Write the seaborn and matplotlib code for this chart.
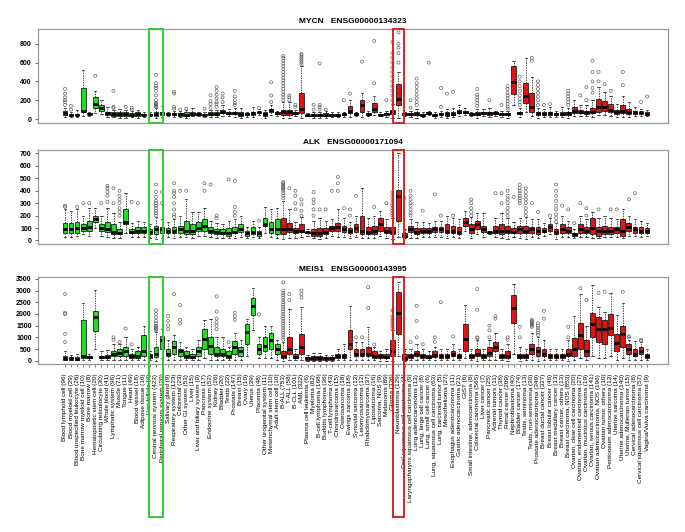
import pandas as pd
import matplotlib.pyplot as plt
import seaborn as sns
import numpy as np
from matplotlib.patches import Rectangle
from matplotlib.transforms import blended_transform_factory

plt.rcParams['font.family'] = ['Liberation Sans', 'DejaVu Sans']

cats = ['Blood lymphoid cell (96)', 'Blood myeloid cell (29)', 'Blood unspecified leukocyte (26)',
        'Bone marrow myeloid cell (10)', 'Bone marrow (8)', 'Hematopoietic stem cell (20)',
        'Circulating reticulocyte (30)', 'Whole blood (41)', 'Lymphatic system (96)', 'Muscle (71)',
        'Tongue (11)', 'Heart (49)', 'Blood vessel (18)', 'Adipose tissue (16)', 'Hair follicle (4)',
        'Central nervous system (423)', 'Peripheral nervous system (20)', 'Salivary gland (9)',
        'Respiratory system (123)', 'Colorectal (23)', 'Other GI system (53)', 'Liver (15)',
        'Liver and biliary system (9)', 'Pancreas (17)', 'Endocrine system (52)', 'Kidney (26)',
        'Bladder (20)', 'Testis (22)', 'Prostate (147)', 'Breast (15)', 'Ovary (10)', 'Uterus (39)',
        'Placenta (48)', 'Other urogenital system (11)', 'Mesenchymal stem cell (10)', 'Adult stem cell (10)',
        'B-ALL (753)', 'T-ALL (58)', 'B-CLL (101)', 'AML (322)', 'Plasma cell leukemia (6)', 'Myeloma (82)',
        'B-cell lymphoma (168)', 'Burkitts lymphoma (36)', 'T-cell lymphoma (43)', 'Chondrosarcoma (15)',
        'Osteosarcoma (18)', 'Ewings sarcoma (18)', 'Synovial sarcoma (12)', 'Leiomyosarcoma (12)',
        'Rhabdomyosarcoma (37)', 'Liposarcoma (16)', 'Sarcoma, NOS (9)', 'Melanoma (89)', 'Glioma (336)',
        'Neuroblastoma (129)', 'Oral squamous cell carcinoma (4)', 'Laryngopharynx squamous cell carcinoma (9)',
        'Lung adenocarcinoma (13)', 'Lung, large cell cancer (8)', 'Lung, small cell cancer (6)',
        'Lung, squamous cell carcinoma (63)', 'Lung, carcinoid tumor (5)', 'Mesothelioma (27)',
        'Esophagus adenocarcinoma (11)', 'Gastric adenocarcinoma (21)', 'GIST (6)',
        'Small intestine, adenocarcinoma (6)', 'Colorectal carcinoma (565)', 'Liver cancer (7)',
        'Pancreatic cancer (25)', 'Adrenal tumors (11)', 'Thyroid cancer (38)', 'Renal cancer (209)',
        'Nephroblastoma (40)', 'Bladder cancer (174)', 'Testis, seminoma (13)', 'Testis, non-seminoma (30)',
        'Prostate adenocarcinoma (349)', 'Breast ductal cancer (327)', 'Breast lobular cancer (46)',
        'Breast medullary cancer (13)', 'Breast cancer, others (13)', 'Breast carcinoma, NOS (853)',
        'Ovarian, clear cell carcinoma (20)', 'Ovarian, endometrioid carcinoma (27)',
        'Ovarian, mucinous carcinoma (19)', 'Ovarian, serous carcinoma (141)',
        'Ovarian adenocarcinoma, NOS (196)', 'Ovarian tumor, others (10)', 'Peritoneum adenocarcinoma (13)',
        'Uterine sarcoma (14)', 'Uterine adenocarcinoma (140)', 'Uterine, Mullerian tumor (15)',
        'Cervical adenocarcinoma (8)', 'Cervical squamous cell carcinoma (57)', 'Vagina/Vulva carcinoma (9)']
n_normal = 36

# MYCN
mycn_lo = [20,20,20,30,30,60,50,20,20,15,15,20,15,25,30,10,20,30,20,20,15,30,30,25,20,25,30,30,25,15,25,20,40,15,40,30,
           10,10,30,10,30,15,15,15,20,20,20,20,30,20,30,40,30,20,10,10,30,20,15,25,40,15,20,15,20,30,40,30,10,30,25,30,
           20,10,150,20,80,30,15,20,20,25,20,10,30,30,30,20,40,40,30,20,20,20,30,30,30]
mycn_q1 = [40,35,40,75,50,120,90,40,35,30,30,35,35,40,40,35,40,45,40,35,30,45,45,40,40,45,60,50,50,30,40,40,60,30,70,50,
           40,40,50,60,35,30,30,30,35,35,40,60,45,80,45,80,40,40,50,150,40,40,40,35,55,30,40,30,40,60,60,45,40,50,45,50,
           40,40,270,50,170,80,40,40,40,40,40,40,60,60,50,60,80,90,70,50,60,50,50,55,45]
mycn_med = [60,45,45,90,55,155,120,60,55,50,50,45,50,45,45,55,60,50,50,50,45,55,50,45,55,55,80,65,65,50,50,60,70,50,100,60,
            70,70,60,110,40,40,40,40,40,45,50,90,50,150,55,110,45,50,70,210,50,50,55,40,60,40,50,50,55,80,70,50,55,60,60,60,
            50,50,390,65,250,130,60,50,60,50,55,60,90,80,70,80,130,130,100,70,90,80,70,70,55]
mycn_q3 = [85,55,55,330,65,230,150,80,70,70,70,60,70,55,55,80,80,60,60,60,70,70,60,55,70,70,100,80,80,80,60,80,80,70,110,70,
           100,100,70,280,45,50,50,60,50,55,60,140,60,200,65,170,55,60,100,370,60,60,70,50,70,50,60,70,80,100,90,60,70,80,80,70,
           60,60,560,80,380,280,80,70,80,60,80,80,130,100,90,120,210,190,160,100,150,110,90,80,70]
mycn_hi = [120,80,100,520,80,300,200,130,100,110,100,90,100,70,70,120,140,80,90,90,100,120,80,80,100,100,150,110,120,120,80,130,110,100,150,90,
           180,180,100,560,60,70,70,90,70,80,80,200,80,280,90,250,70,90,160,500,80,90,110,70,90,70,90,110,120,150,120,80,110,110,120,90,
           90,90,620,120,650,450,120,110,130,90,130,120,200,150,150,200,340,290,250,160,250,180,130,110,100]
mycn_out = [[150,180,200,230,270,320],[100,140],[],[],[],[460],[],[],[120,130,300],[],[130],[100,120],[],[],[],
            [130,140,150,160,170,200,250,300,330,350,380,470],[],[],[110,130,270,290],[100],[110],[],[],[110],
            [120,160,190,250],[130,160,180,220,260,300,340],[180,230,270],[],[150,170,200,240,300],[],[],[],[120],[],
            [180,250,390],[],
            [200,230,260,290,320,350,380,410,440,470,500,530,560,590,620,650,670],[200,230,250],[130,150],
            [580,600,620,640,660,680,690],[],[100,150],[100,130,150,590],[100],[],[],[200],[270],[],[610],[],[380,830],[],[200],
            [200,250,300,350,400,450,500,550,600,650,700,820],[600,700,760,800,920],[],[120,200],
            [150,180,220,260,300,340,380,430],[],[600],[],[130,330],[270],[290],[],[],[],[140,170,200,230,260,320],[],[200],[],
            [150],[110,130,160,190,220,250,280,320,350],[],[150,180,210,250,300,350,400,450],[],[620,650],
            [150,200,240,280,320,360,400],[150],[160],[],[],[150,180,210,240,270,300],[],[250],[200,340],
            [280,330,400,500,620],[400,500],[370],[300],[],[360,500],[],[],[180],[240]]

# ALK
alk_lo = [30,30,40,50,40,100,40,30,20,20,60,30,30,30,20,10,20,30,20,30,30,20,40,40,30,20,20,20,20,30,20,30,20,60,30,20,
          10,20,20,30,40,20,10,20,40,30,30,20,30,20,20,20,40,20,10,30,20,20,20,30,30,30,30,20,30,20,80,20,50,30,50,30,
          20,10,30,20,10,30,20,40,50,10,30,30,20,30,30,20,20,30,30,30,20,40,40,30,40]
alk_q1 = [60,60,60,80,80,150,80,70,50,50,130,60,60,60,50,50,60,60,60,60,50,50,80,80,60,50,50,40,60,70,40,50,40,120,60,50,
          50,70,60,70,60,40,40,50,80,80,70,60,70,50,50,50,80,60,50,160,30,70,50,60,60,70,70,60,60,50,120,60,90,70,60,60,
          50,60,60,60,60,60,50,70,80,50,60,60,40,60,60,50,40,50,50,60,40,80,60,60,60]
alk_med = [95,95,100,100,110,170,100,95,70,60,150,70,80,80,70,90,90,80,80,90,80,80,100,120,80,70,60,60,70,90,60,70,60,130,90,90,
           90,90,80,80,65,60,60,70,100,110,90,80,100,80,70,80,130,80,70,360,40,90,70,80,80,90,90,80,80,70,150,90,130,90,65,80,
           80,80,70,90,80,90,80,80,110,70,90,80,50,90,80,100,80,80,80,90,80,110,90,80,80]
alk_q3 = [140,140,150,130,160,200,130,150,130,90,250,90,110,110,90,120,110,100,110,120,160,130,150,170,110,90,90,100,110,130,80,110,80,180,150,170,
          180,140,100,130,70,90,100,100,120,140,120,100,130,200,110,120,180,110,110,410,60,120,100,100,100,110,110,130,120,110,180,130,160,120,70,120,
          130,120,100,120,120,110,110,100,130,90,130,110,60,130,110,180,110,120,110,110,170,140,110,110,100]
alk_hi = [250,240,250,200,260,260,200,260,220,150,380,140,160,150,130,190,170,150,170,200,330,230,230,260,160,140,130,160,170,200,110,160,110,270,250,260,
          320,250,150,190,90,160,180,160,170,250,180,150,200,420,180,200,240,170,180,700,90,170,150,150,140,160,160,200,180,170,240,190,220,220,80,180,
          220,180,150,180,190,170,170,140,180,140,200,160,90,200,170,230,180,200,180,170,250,200,170,160,140]
alk_out = [[270,280],[],[270],[300],[300],[],[300],[310,360,390,420,440],[300,420],[200,230,260,300,330,360,400],[],[310],[300],
           [],[],[200,220,240,260,280,300,320,350,390,450],[300,390],[],[190,210,250,300,350,380,400,460],[400],[400],[],[],
           [400,460],[450],[180,200],[],[490],[200,230,270,480],[],[],[],[160],[],[],[],
           [340,360,380,400,410,420,430,440,450,460,470],[420],[250,300,360,400],[200,240,290,330],[],[200,250,300,330,390],
           [250],[250],[400],[400,460,510],[260],[200,250],[360],[],[],[270],[],[300],[200,220,240,260,280,300,330,360,390],[],
           [340],[200,220,250,280,300,330,360,400],[],[240],[],[370],[200],[],[200],[],[],[200,230,260,300,330],[],[],[],[380],
           [300,380],[200,230,260,300,330,360,400],[350],[300,320,340,360,380,400,420,450],[200,230,260,300,330,360,390,420],
           [300],[230],[],[200],[150,180,210,250,280,320,360,400,450],[280],[250],[140],[300],[200,260],[],[250],[],[250],[250],
           [],[330],[380],[],[]]

# MEIS1
meis1_lo = [20,20,20,20,20,500,20,20,50,50,50,20,20,50,20,10,100,50,50,50,20,20,50,100,50,50,50,20,50,50,200,1300,100,100,100,50,
            10,50,20,20,10,10,10,10,10,20,20,50,20,20,20,20,10,10,10,200,10,20,20,20,20,20,20,20,20,20,100,20,10,20,20,50,
            20,10,300,10,20,20,10,20,20,20,20,10,50,100,50,200,100,100,200,50,100,50,50,50,20]
meis1_q1 = [50,50,50,100,100,1290,100,100,200,200,200,100,100,200,100,150,500,200,300,200,100,100,200,500,300,200,200,100,300,200,700,1950,300,400,500,300,
            100,300,100,300,50,50,50,50,50,100,100,500,200,200,200,100,100,100,200,1150,50,100,200,100,100,150,100,100,200,100,400,100,200,100,200,400,
            100,100,1630,100,100,300,200,200,100,100,100,200,200,500,200,1000,800,700,1100,400,600,300,200,300,100]
meis1_med = [100,100,80,200,150,1870,150,150,300,350,400,200,200,400,200,300,900,300,600,400,200,150,400,950,650,300,300,200,600,400,1240,2330,500,650,900,500,
             200,500,150,600,100,100,100,100,100,200,200,700,300,300,300,200,200,150,400,2050,100,200,300,200,150,250,200,200,300,200,920,200,300,200,350,600,
             200,200,2260,200,200,500,400,300,200,200,200,300,500,1100,400,1550,1350,1350,1400,780,1150,500,300,400,200]
meis1_q3 = [200,150,150,1730,200,2140,200,250,400,500,600,300,400,1090,300,600,1050,500,850,500,400,300,600,1350,1000,600,500,400,850,600,1580,2700,700,1000,1200,700,
            400,1030,300,1150,150,200,200,150,150,300,300,1300,500,500,600,400,300,300,900,2950,300,300,400,300,250,400,300,300,400,300,1560,300,500,300,600,800,
            300,400,2800,300,300,700,600,500,300,300,300,500,960,1600,900,2050,1850,1750,2000,1150,1500,700,500,600,300]
meis1_hi = [400,250,300,2450,300,3040,400,450,700,700,1000,500,600,1490,400,1250,1350,900,1100,800,600,500,900,1750,1800,1000,1000,600,1200,900,1780,3100,1000,1500,1500,900,
            800,2200,500,2300,250,350,350,250,250,500,700,2350,800,800,1450,600,400,500,1300,3350,500,500,700,500,400,600,500,500,700,500,2370,500,900,500,900,1200,
            500,700,3270,600,500,1200,1000,900,500,500,500,900,1900,2850,1500,3240,2300,2100,2900,1950,2450,900,850,800,500]
meis1_out = [[800,1150,2000,2050,2850],[],[],[],[],[],[],[],[900,1000],[800],[1380],[700],[],[],[],
             [1300,1350,1400,1450,1500,1600,1700,1850,2000,2150],[],[1350,1500,1700,1900],[2850],[1600,1750,2380],[],[],[],[],[],
             [1350,1500,1650,1800,2100,2750],[],[800],[1750,1900,2050],[],[],[],[1980],[],[],[],
             [900,1000,1100,1200,1300,1400,1500,1600,1700,1800,1900,2000,2100,2200,2300,2400,2500,2600,2700,2800,2900,3000,3350],
             [2600,2850],[],[2700,2850,3000],[],[],[],[],[],[],[],[],[1000],[1000],[2250,3140],[700],[],[],
             [1400,1500,1600,1700,1800,1900,2150],[],[],[800],[1000,1700,2350],[700],[],[800,1000],[2500],[],[1050],[],[],[],
             [970,1000,2180,3060],[],[1000,1300,1500],[1800,1900],[],[900,1000],[],[1000,1450],[],
             [1450,1500,1550,1600,1650,1700,1750],[1100,1200,1300,1400,1500,1600],[1800,2130],[],[],[],[1000,1450],[],[3100],
             [2600],[],[2900],[2950],[],[],[2950],[1000,1050],[],[850,900],[]]

mycn_ticks = [0, 200, 400, 600, 800]
alk_ticks = [0, 100, 200, 300, 400, 500, 600, 700]
meis1_ticks = [0, 500, 1000, 1500, 2000, 2500, 3000, 3500]

panels = [('MYCN   ENSG00000134323', mycn_lo, mycn_q1, mycn_med, mycn_q3, mycn_hi, mycn_out, mycn_ticks, (-37, 957)),
          ('ALK   ENSG00000171094', alk_lo, alk_q1, alk_med, alk_q3, alk_hi, alk_out, alk_ticks, (-28, 728)),
          ('MEIS1   ENSG00000143995', meis1_lo, meis1_q1, meis1_med, meis1_q3, meis1_hi, meis1_out, meis1_ticks, (-138, 3578))]

pal = ['#22dd22'] * n_normal + ['#e01212'] * (len(cats) - n_normal)

fig = plt.figure(figsize=(6.85, 5.32), dpi=100)
rects = [[0.0555, 0.7697, 0.9197, 0.1758], [0.0555, 0.5414, 0.9197, 0.1767], [0.0555, 0.3158, 0.9197, 0.1635]]

highlight = [(cats.index('Central nervous system (423)'), 1.2, '#33cc33'),
             (cats.index('Neuroblastoma (129)'), 0.9, '#dd2222')]

for k, (title, lo, q1, med, q3, hi, outs, ticks, ylim) in enumerate(panels):
    ax = fig.add_axes(rects[k])
    # five values per category -> quartiles come out exactly
    rows = []
    for c, vals in zip(cats, zip(lo, q1, med, q3, hi)):
        for v in vals:
            rows.append((c, v))
    box_df = pd.DataFrame(rows, columns=['cat', 'val'])
    out_df = pd.DataFrame([(c, v) for c, vs in zip(cats, outs) for v in vs], columns=['cat', 'val'])

    sns.boxplot(data=box_df, x='cat', y='val', hue='cat', order=cats, hue_order=cats, palette=pal,
                whis=(0, 100), showfliers=False, width=0.78, saturation=1, linecolor='black', linewidth=0.5,
                legend=False, ax=ax,
                medianprops=dict(linewidth=2.0, color='black'),
                whiskerprops=dict(linestyle=(0, (2, 1.5)), linewidth=0.5))
    sns.stripplot(data=out_df, x='cat', y='val', order=cats, jitter=False, size=2.2, marker='o',
                  facecolor='none', edgecolor='0.35', linewidth=0.45, ax=ax)

    ax.set_xlim(-4.45, 99.46)
    ax.set_ylim(*ylim)
    ax.set_yticks(ticks)
    ax.set_yticklabels([str(t) for t in ticks], fontsize=5, fontweight='bold')
    ax.tick_params(axis='y', length=2.5, width=0.6, pad=2, color='0.3')
    ax.set_xlabel('')
    ax.set_ylabel('')
    ax.set_title(title, fontsize=6, fontweight='bold', pad=4)
    for s in ax.spines.values():
        s.set_color('#999999')
        s.set_linewidth(0.9)
    if k < 2:
        ax.tick_params(axis='x', bottom=False, labelbottom=False)
    else:
        ax.set_xticks(range(len(cats)))
        ax.set_xticklabels(cats, rotation=90, fontsize=4.6)
        ax.tick_params(axis='x', length=2.5, width=0.5, pad=4.5, color='0.3')

    tr = blended_transform_factory(ax.transData, ax.transAxes)
    y0 = -1.76 if k == 2 else 0
    for idx, half, col in highlight:
        ax.add_patch(Rectangle((idx - half, y0), 2 * half, 1 - y0, transform=tr, fill=False,
                               ec=col, lw=1.4, clip_on=False, zorder=5))

plt.savefig('out.png', dpi=100)
